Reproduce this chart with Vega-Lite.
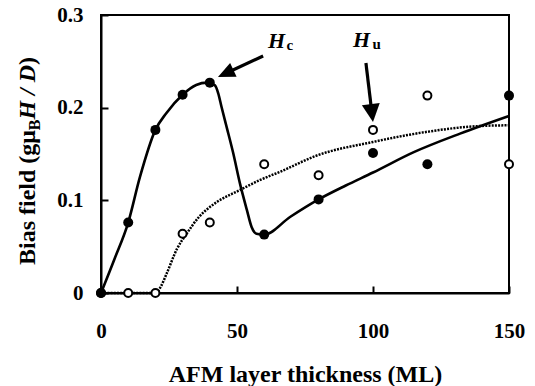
{
  "$schema": "https://vega.github.io/schema/vega-lite/v6.json",
  "width": 408,
  "height": 278,
  "autosize": "none",
  "padding": {"left": 101, "top": 15, "right": 26, "bottom": 93},
  "background": "white",
  "config": {
    "view": {"stroke": "black", "strokeWidth": 2},
    "font": "Liberation Serif"
  },
  "datasets": {
    "pts": [
      {"x": 0, "y": 0, "series": "Hu"},
      {"x": 10, "y": 0, "series": "Hu"},
      {"x": 20, "y": 0, "series": "Hu"},
      {"x": 30, "y": 0.064, "series": "Hu"},
      {"x": 40, "y": 0.076, "series": "Hu"},
      {"x": 60, "y": 0.139, "series": "Hu"},
      {"x": 80, "y": 0.127, "series": "Hu"},
      {"x": 100, "y": 0.176, "series": "Hu"},
      {"x": 120, "y": 0.213, "series": "Hu"},
      {"x": 150, "y": 0.139, "series": "Hu"},
      {"x": 0, "y": 0, "series": "Hc"},
      {"x": 10, "y": 0.076, "series": "Hc"},
      {"x": 20, "y": 0.176, "series": "Hc"},
      {"x": 30, "y": 0.214, "series": "Hc"},
      {"x": 40, "y": 0.227, "series": "Hc"},
      {"x": 60, "y": 0.063, "series": "Hc"},
      {"x": 80, "y": 0.101, "series": "Hc"},
      {"x": 100, "y": 0.151, "series": "Hc"},
      {"x": 120, "y": 0.139, "series": "Hc"},
      {"x": 150, "y": 0.213, "series": "Hc"}
    ],
    "fitHc": [
      {"x": 0, "y": 0}, {"x": 5, "y": 0.037}, {"x": 10, "y": 0.076}, {"x": 14.3, "y": 0.125},
      {"x": 20, "y": 0.176}, {"x": 24, "y": 0.194}, {"x": 30, "y": 0.214}, {"x": 35, "y": 0.2245},
      {"x": 39, "y": 0.227}, {"x": 41.9, "y": 0.224}, {"x": 43.1, "y": 0.2155}, {"x": 44.3, "y": 0.201},
      {"x": 46.2, "y": 0.179}, {"x": 48.6, "y": 0.151}, {"x": 51.1, "y": 0.118}, {"x": 53.6, "y": 0.09},
      {"x": 55.4, "y": 0.071}, {"x": 57.2, "y": 0.064}, {"x": 60, "y": 0.063}, {"x": 69.5, "y": 0.082},
      {"x": 80, "y": 0.101}, {"x": 90, "y": 0.116}, {"x": 100, "y": 0.13}, {"x": 115, "y": 0.152},
      {"x": 132, "y": 0.172}, {"x": 150, "y": 0.191}
    ],
    "fitHu": [
      {"x": 0, "y": 0}, {"x": 10, "y": 0}, {"x": 20, "y": 0}, {"x": 22, "y": 0.007},
      {"x": 24, "y": 0.02}, {"x": 28, "y": 0.048}, {"x": 31.5, "y": 0.064}, {"x": 36, "y": 0.082},
      {"x": 42, "y": 0.097}, {"x": 51, "y": 0.111}, {"x": 58.5, "y": 0.122}, {"x": 66, "y": 0.131},
      {"x": 79, "y": 0.148}, {"x": 100, "y": 0.163}, {"x": 120, "y": 0.174}, {"x": 138, "y": 0.18},
      {"x": 150, "y": 0.181}
    ],
    "ann": [
      {"id": "HcTail", "arrow": "Hc", "x": 59.6, "y": 0.2558},
      {"id": "HcShaftEnd", "arrow": "Hc", "x": 45.96, "y": 0.2371},
      {"id": "HcTip", "arrow": "Hc", "x": 43.0, "y": 0.2331},
      {"id": "HuTail", "arrow": "Hu", "x": 97.4, "y": 0.2482},
      {"id": "HuShaftEnd", "arrow": "Hu", "x": 99.6, "y": 0.1942},
      {"id": "HuTip", "arrow": "Hu", "x": 100.0, "y": 0.1845},
      {"id": "HcLabel", "arrow": "Hc", "x": 61.4, "y": 0.2644},
      {"id": "HuLabel", "arrow": "Hu", "x": 92.65, "y": 0.2655},
      {"id": "yTitle", "arrow": "none", "x": -24.26, "y": 0.0302}
    ]
  },
  "encoding": {
    "x": {
      "field": "x", "type": "quantitative",
      "scale": {"domain": [0, 150], "nice": false, "zero": false},
      "axis": {
        "values": [0, 50, 100, 150],
        "grid": false,
        "domainColor": "black", "domainWidth": 2,
        "tickColor": "black", "tickWidth": 2, "tickSize": -7,
        "labelFont": "Liberation Serif", "labelFontWeight": "bold", "labelFontSize": 21,
        "labelColor": "black", "labelBaseline": "alphabetic", "labelPadding": 51,
        "labelFlush": false,
        "title": "AFM layer thickness (ML)",
        "titleFont": "Liberation Serif", "titleFontWeight": "bold", "titleFontSize": 24,
        "titleColor": "black", "titleBaseline": "alphabetic", "titlePadding": 40
      }
    },
    "y": {
      "field": "y", "type": "quantitative",
      "scale": {"domain": [0, 0.3], "nice": false, "zero": false},
      "axis": {
        "values": [0, 0.1, 0.2, 0.3],
        "grid": false,
        "domainColor": "black", "domainWidth": 2,
        "tickColor": "black", "tickWidth": 2, "tickSize": -7,
        "labelFont": "Liberation Serif", "labelFontWeight": "bold", "labelFontSize": 21,
        "labelColor": "black", "labelBaseline": "middle", "labelPadding": 25,
        "labelFlush": false,
        "labelExpr": "datum.value === 0 ? '0' : format(datum.value, '.1f')",
        "title": null
      }
    }
  },
  "layer": [
    {
      "data": {"name": "fitHu"},
      "mark": {"type": "line", "interpolate": "monotone", "color": "black", "strokeWidth": 2.5, "strokeDash": [2, 1.2]}
    },
    {
      "data": {"name": "fitHc"},
      "mark": {"type": "line", "interpolate": "monotone", "color": "black", "strokeWidth": 2.6}
    },
    {
      "data": {"name": "ann"},
      "transform": [{"filter": "indexof(['HcTail','HcShaftEnd','HuTail','HuShaftEnd'], datum.id) >= 0"}],
      "mark": {"type": "line", "color": "black", "strokeWidth": 3.2},
      "encoding": {"detail": {"field": "arrow"}}
    },
    {
      "data": {"name": "ann"},
      "transform": [{"filter": "datum.id === 'HcTip'"}],
      "mark": {"type": "point", "shape": "M0,0L-0.9,2L0.9,2Z", "filled": true, "color": "black", "opacity": 1, "size": 289, "angle": 245}
    },
    {
      "data": {"name": "ann"},
      "transform": [{"filter": "datum.id === 'HuTip'"}],
      "mark": {"type": "point", "shape": "M0,0L-1,2L1,2Z", "filled": true, "color": "black", "opacity": 1, "size": 324, "angle": 173}
    },
    {
      "data": {"name": "pts"},
      "transform": [{"filter": "datum.series === 'Hu'"}],
      "mark": {"type": "point", "shape": "circle", "fill": "white", "stroke": "black", "strokeWidth": 2, "opacity": 1, "size": 64}
    },
    {
      "data": {"name": "pts"},
      "transform": [{"filter": "datum.series === 'Hc'"}],
      "mark": {"type": "circle", "color": "black", "opacity": 1, "size": 100}
    },
    {
      "data": {"name": "ann"},
      "transform": [{"filter": "datum.id === 'HcLabel'"}],
      "mark": {"type": "text", "text": "H", "font": "Liberation Serif", "fontWeight": "bold", "fontStyle": "italic", "fontSize": 22, "align": "left", "baseline": "alphabetic", "color": "black"}
    },
    {
      "data": {"name": "ann"},
      "transform": [{"filter": "datum.id === 'HcLabel'"}],
      "mark": {"type": "text", "text": "c", "font": "Liberation Serif", "fontWeight": "bold", "fontSize": 15, "align": "left", "baseline": "alphabetic", "dx": 18.5, "dy": 2.5, "color": "black"}
    },
    {
      "data": {"name": "ann"},
      "transform": [{"filter": "datum.id === 'HuLabel'"}],
      "mark": {"type": "text", "text": "H", "font": "Liberation Serif", "fontWeight": "bold", "fontStyle": "italic", "fontSize": 22, "align": "left", "baseline": "alphabetic", "color": "black"}
    },
    {
      "data": {"name": "ann"},
      "transform": [{"filter": "datum.id === 'HuLabel'"}],
      "mark": {"type": "text", "text": "u", "font": "Liberation Serif", "fontWeight": "bold", "fontSize": 15, "align": "left", "baseline": "alphabetic", "dx": 19.5, "dy": 2.5, "color": "black"}
    },
    {
      "data": {"name": "ann"},
      "transform": [{"filter": "datum.id === 'yTitle'"}],
      "mark": {"type": "text", "text": "Bias field (gμ", "font": "Liberation Serif", "fontWeight": "bold", "fontSize": 24, "angle": 270, "align": "left", "baseline": "alphabetic", "color": "black"}
    },
    {
      "data": {"name": "ann"},
      "transform": [{"filter": "datum.id === 'yTitle'"}],
      "mark": {"type": "text", "text": "B", "font": "Liberation Serif", "fontWeight": "bold", "fontSize": 16, "angle": 270, "align": "left", "baseline": "alphabetic", "dx": 134.7, "dy": 5, "color": "black"}
    },
    {
      "data": {"name": "ann"},
      "transform": [{"filter": "datum.id === 'yTitle'"}],
      "mark": {"type": "text", "text": "H", "font": "Liberation Serif", "fontWeight": "bold", "fontStyle": "italic", "fontSize": 24, "angle": 270, "align": "left", "baseline": "alphabetic", "dx": 145.4, "color": "black"}
    },
    {
      "data": {"name": "ann"},
      "transform": [{"filter": "datum.id === 'yTitle'"}],
      "mark": {"type": "text", "text": "/", "font": "Liberation Serif", "fontWeight": "bold", "fontStyle": "italic", "fontSize": 24, "angle": 270, "align": "left", "baseline": "alphabetic", "dx": 170.1, "color": "black"}
    },
    {
      "data": {"name": "ann"},
      "transform": [{"filter": "datum.id === 'yTitle'"}],
      "mark": {"type": "text", "text": "D", "font": "Liberation Serif", "fontWeight": "bold", "fontStyle": "italic", "fontSize": 24, "angle": 270, "align": "left", "baseline": "alphabetic", "dx": 182.8, "color": "black"}
    },
    {
      "data": {"name": "ann"},
      "transform": [{"filter": "datum.id === 'yTitle'"}],
      "mark": {"type": "text", "text": ")", "font": "Liberation Serif", "fontWeight": "bold", "fontSize": 24, "angle": 270, "align": "left", "baseline": "alphabetic", "dx": 200.1, "color": "black"}
    }
  ]
}
